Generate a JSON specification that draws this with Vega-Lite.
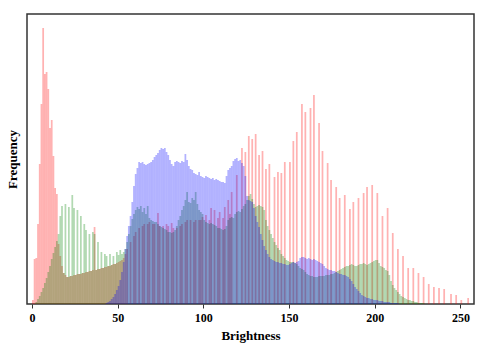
{"$schema":"https://vega.github.io/schema/vega-lite/v6.json","width":447,"height":290,"autosize":{"type":"none"},"padding":{"left":27,"top":14,"right":13,"bottom":48},"background":"white","config":{"view":{"stroke":"#333","strokeWidth":1.5},"font":"Liberation Serif"},
"datasets":{"h":[
{"c":"R","b":0,"v":4},{"c":"R","b":1,"v":45},{"c":"R","b":2,"v":46},{"c":"R","b":3,"v":80},{"c":"R","b":4,"v":140},{"c":"R","b":5,"v":200},{"c":"R","b":6,"v":276},{"c":"R","b":7,"v":230},{"c":"R","b":8,"v":232},{"c":"R","b":9,"v":215},{"c":"R","b":10,"v":176},{"c":"R","b":11,"v":184},{"c":"R","b":12,"v":148},{"c":"R","b":13,"v":116},{"c":"R","b":14,"v":110},{"c":"R","b":15,"v":60},{"c":"R","b":16,"v":48},{"c":"R","b":17,"v":38},{"c":"R","b":18,"v":31},{"c":"R","b":19,"v":29},{"c":"R","b":20,"v":27},{"c":"R","b":21,"v":27},{"c":"R","b":22,"v":28},{"c":"R","b":23,"v":28},{"c":"R","b":24,"v":29},{"c":"R","b":25,"v":29},{"c":"R","b":26,"v":30},{"c":"R","b":27,"v":30},{"c":"R","b":28,"v":30},{"c":"R","b":29,"v":31},{"c":"R","b":30,"v":31},{"c":"R","b":31,"v":32},{"c":"R","b":32,"v":32},{"c":"R","b":33,"v":33},{"c":"R","b":34,"v":33},{"c":"R","b":35,"v":34},{"c":"R","b":36,"v":77},{"c":"R","b":37,"v":34},{"c":"R","b":38,"v":35},{"c":"R","b":39,"v":35},{"c":"R","b":40,"v":36},{"c":"R","b":41,"v":36},{"c":"R","b":42,"v":37},{"c":"R","b":43,"v":37},{"c":"R","b":44,"v":38},{"c":"R","b":45,"v":38},{"c":"R","b":46,"v":39},{"c":"R","b":47,"v":40},{"c":"R","b":48,"v":40},{"c":"R","b":49,"v":41},{"c":"R","b":50,"v":42},{"c":"R","b":51,"v":43},{"c":"R","b":52,"v":44},{"c":"R","b":53,"v":46},{"c":"R","b":54,"v":50},{"c":"R","b":55,"v":55},{"c":"R","b":57,"v":62},{"c":"R","b":59,"v":68},{"c":"R","b":60,"v":72},{"c":"R","b":62,"v":76},{"c":"R","b":64,"v":78},{"c":"R","b":65,"v":80},{"c":"R","b":67,"v":80},{"c":"R","b":68,"v":82},{"c":"R","b":70,"v":80},{"c":"R","b":71,"v":80},{"c":"R","b":73,"v":91},{"c":"R","b":74,"v":78},{"c":"R","b":76,"v":78},{"c":"R","b":78,"v":80},{"c":"R","b":79,"v":78},{"c":"R","b":81,"v":81},{"c":"R","b":82,"v":76},{"c":"R","b":84,"v":76},{"c":"R","b":86,"v":78},{"c":"R","b":87,"v":80},{"c":"R","b":89,"v":82},{"c":"R","b":90,"v":84},{"c":"R","b":92,"v":84},{"c":"R","b":94,"v":82},{"c":"R","b":95,"v":84},{"c":"R","b":97,"v":84},{"c":"R","b":98,"v":84},{"c":"R","b":99,"v":87},{"c":"R","b":101,"v":89},{"c":"R","b":103,"v":84},{"c":"R","b":104,"v":96},{"c":"R","b":106,"v":94},{"c":"R","b":108,"v":86},{"c":"R","b":109,"v":92},{"c":"R","b":111,"v":86},{"c":"R","b":112,"v":97},{"c":"R","b":114,"v":104},{"c":"R","b":115,"v":90},{"c":"R","b":116,"v":112},{"c":"R","b":119,"v":129},{"c":"R","b":122,"v":156},{"c":"R","b":124,"v":152},{"c":"R","b":126,"v":168},{"c":"R","b":128,"v":165},{"c":"R","b":130,"v":170},{"c":"R","b":132,"v":149},{"c":"R","b":134,"v":153},{"c":"R","b":136,"v":135},{"c":"R","b":138,"v":140},{"c":"R","b":141,"v":127},{"c":"R","b":143,"v":132},{"c":"R","b":145,"v":131},{"c":"R","b":147,"v":142},{"c":"R","b":150,"v":142},{"c":"R","b":152,"v":163},{"c":"R","b":154,"v":172},{"c":"R","b":157,"v":200},{"c":"R","b":159,"v":192},{"c":"R","b":162,"v":196},{"c":"R","b":164,"v":209},{"c":"R","b":167,"v":181},{"c":"R","b":169,"v":153},{"c":"R","b":172,"v":141},{"c":"R","b":174,"v":124},{"c":"R","b":177,"v":117},{"c":"R","b":179,"v":106},{"c":"R","b":182,"v":109},{"c":"R","b":185,"v":95},{"c":"R","b":187,"v":102},{"c":"R","b":190,"v":106},{"c":"R","b":193,"v":111},{"c":"R","b":195,"v":117},{"c":"R","b":198,"v":119},{"c":"R","b":201,"v":111},{"c":"R","b":204,"v":88},{"c":"R","b":207,"v":96},{"c":"R","b":210,"v":71},{"c":"R","b":213,"v":55},{"c":"R","b":216,"v":48},{"c":"R","b":219,"v":36},{"c":"R","b":222,"v":36},{"c":"R","b":225,"v":31},{"c":"R","b":228,"v":27},{"c":"R","b":231,"v":20},{"c":"R","b":234,"v":17},{"c":"R","b":237,"v":16},{"c":"R","b":240,"v":15},{"c":"R","b":244,"v":10},{"c":"R","b":247,"v":9},{"c":"R","b":250,"v":4},{"c":"R","b":254,"v":6},
{"c":"G","b":2,"v":2},{"c":"G","b":3,"v":5},{"c":"G","b":4,"v":8},{"c":"G","b":5,"v":12},{"c":"G","b":6,"v":16},{"c":"G","b":7,"v":21},{"c":"G","b":8,"v":26},{"c":"G","b":9,"v":32},{"c":"G","b":10,"v":38},{"c":"G","b":11,"v":45},{"c":"G","b":12,"v":51},{"c":"G","b":13,"v":57},{"c":"G","b":14,"v":63},{"c":"G","b":15,"v":70},{"c":"G","b":16,"v":88},{"c":"G","b":17,"v":98},{"c":"G","b":18,"v":31},{"c":"G","b":19,"v":100},{"c":"G","b":20,"v":27},{"c":"G","b":21,"v":97},{"c":"G","b":22,"v":28},{"c":"G","b":23,"v":109},{"c":"G","b":24,"v":96},{"c":"G","b":25,"v":29},{"c":"G","b":26,"v":94},{"c":"G","b":27,"v":30},{"c":"G","b":28,"v":88},{"c":"G","b":29,"v":31},{"c":"G","b":30,"v":80},{"c":"G","b":31,"v":74},{"c":"G","b":32,"v":32},{"c":"G","b":33,"v":70},{"c":"G","b":34,"v":33},{"c":"G","b":35,"v":72},{"c":"G","b":36,"v":70},{"c":"G","b":37,"v":34},{"c":"G","b":38,"v":62},{"c":"G","b":39,"v":35},{"c":"G","b":40,"v":52},{"c":"G","b":41,"v":36},{"c":"G","b":42,"v":50},{"c":"G","b":43,"v":48},{"c":"G","b":44,"v":38},{"c":"G","b":45,"v":50},{"c":"G","b":46,"v":39},{"c":"G","b":47,"v":48},{"c":"G","b":48,"v":40},{"c":"G","b":49,"v":52},{"c":"G","b":50,"v":49},{"c":"G","b":51,"v":54},{"c":"G","b":52,"v":50},{"c":"G","b":53,"v":52},{"c":"G","b":54,"v":55},{"c":"G","b":55,"v":62},{"c":"G","b":56,"v":70},{"c":"G","b":57,"v":78},{"c":"G","b":58,"v":85},{"c":"G","b":59,"v":90},{"c":"G","b":60,"v":94},{"c":"G","b":61,"v":97},{"c":"G","b":62,"v":95},{"c":"G","b":63,"v":98},{"c":"G","b":64,"v":92},{"c":"G","b":65,"v":96},{"c":"G","b":66,"v":90},{"c":"G","b":67,"v":98},{"c":"G","b":68,"v":86},{"c":"G","b":69,"v":84},{"c":"G","b":70,"v":83},{"c":"G","b":71,"v":82},{"c":"G","b":72,"v":82},{"c":"G","b":73,"v":80},{"c":"G","b":74,"v":78},{"c":"G","b":75,"v":77},{"c":"G","b":76,"v":76},{"c":"G","b":77,"v":75},{"c":"G","b":78,"v":74},{"c":"G","b":79,"v":72},{"c":"G","b":80,"v":72},{"c":"G","b":81,"v":71},{"c":"G","b":82,"v":72},{"c":"G","b":83,"v":74},{"c":"G","b":84,"v":78},{"c":"G","b":85,"v":84},{"c":"G","b":86,"v":88},{"c":"G","b":87,"v":94},{"c":"G","b":88,"v":98},{"c":"G","b":89,"v":104},{"c":"G","b":90,"v":112},{"c":"G","b":91,"v":102},{"c":"G","b":92,"v":101},{"c":"G","b":93,"v":106},{"c":"G","b":94,"v":104},{"c":"G","b":95,"v":112},{"c":"G","b":96,"v":100},{"c":"G","b":97,"v":94},{"c":"G","b":98,"v":92},{"c":"G","b":99,"v":90},{"c":"G","b":100,"v":84},{"c":"G","b":101,"v":82},{"c":"G","b":102,"v":81},{"c":"G","b":103,"v":80},{"c":"G","b":104,"v":81},{"c":"G","b":105,"v":80},{"c":"G","b":106,"v":79},{"c":"G","b":107,"v":78},{"c":"G","b":108,"v":76},{"c":"G","b":109,"v":76},{"c":"G","b":110,"v":75},{"c":"G","b":111,"v":74},{"c":"G","b":112,"v":75},{"c":"G","b":113,"v":78},{"c":"G","b":114,"v":84},{"c":"G","b":115,"v":86},{"c":"G","b":116,"v":87},{"c":"G","b":117,"v":86},{"c":"G","b":118,"v":90},{"c":"G","b":119,"v":92},{"c":"G","b":120,"v":93},{"c":"G","b":121,"v":92},{"c":"G","b":122,"v":95},{"c":"G","b":123,"v":98},{"c":"G","b":124,"v":100},{"c":"G","b":125,"v":104},{"c":"G","b":126,"v":108},{"c":"G","b":127,"v":110},{"c":"G","b":128,"v":105},{"c":"G","b":129,"v":100},{"c":"G","b":130,"v":97},{"c":"G","b":131,"v":98},{"c":"G","b":132,"v":99},{"c":"G","b":133,"v":98},{"c":"G","b":134,"v":97},{"c":"G","b":135,"v":94},{"c":"G","b":136,"v":84},{"c":"G","b":137,"v":78},{"c":"G","b":138,"v":74},{"c":"G","b":139,"v":70},{"c":"G","b":140,"v":66},{"c":"G","b":141,"v":62},{"c":"G","b":142,"v":59},{"c":"G","b":143,"v":56},{"c":"G","b":144,"v":54},{"c":"G","b":145,"v":50},{"c":"G","b":146,"v":48},{"c":"G","b":147,"v":46},{"c":"G","b":148,"v":44},{"c":"G","b":149,"v":43},{"c":"G","b":150,"v":42},{"c":"G","b":151,"v":42},{"c":"G","b":152,"v":42},{"c":"G","b":153,"v":41},{"c":"G","b":154,"v":40},{"c":"G","b":155,"v":38},{"c":"G","b":156,"v":36},{"c":"G","b":157,"v":35},{"c":"G","b":158,"v":34},{"c":"G","b":159,"v":32},{"c":"G","b":160,"v":30},{"c":"G","b":161,"v":29},{"c":"G","b":162,"v":28},{"c":"G","b":163,"v":28},{"c":"G","b":164,"v":27},{"c":"G","b":165,"v":27},{"c":"G","b":166,"v":27},{"c":"G","b":167,"v":28},{"c":"G","b":168,"v":28},{"c":"G","b":169,"v":28},{"c":"G","b":170,"v":28},{"c":"G","b":171,"v":29},{"c":"G","b":172,"v":29},{"c":"G","b":173,"v":29},{"c":"G","b":174,"v":30},{"c":"G","b":175,"v":30},{"c":"G","b":176,"v":31},{"c":"G","b":177,"v":32},{"c":"G","b":178,"v":33},{"c":"G","b":179,"v":34},{"c":"G","b":180,"v":35},{"c":"G","b":181,"v":36},{"c":"G","b":182,"v":37},{"c":"G","b":183,"v":38},{"c":"G","b":184,"v":38},{"c":"G","b":185,"v":39},{"c":"G","b":186,"v":40},{"c":"G","b":187,"v":39},{"c":"G","b":188,"v":38},{"c":"G","b":189,"v":38},{"c":"G","b":190,"v":39},{"c":"G","b":191,"v":40},{"c":"G","b":192,"v":40},{"c":"G","b":193,"v":41},{"c":"G","b":194,"v":40},{"c":"G","b":195,"v":39},{"c":"G","b":196,"v":40},{"c":"G","b":197,"v":41},{"c":"G","b":198,"v":42},{"c":"G","b":199,"v":43},{"c":"G","b":200,"v":44},{"c":"G","b":201,"v":44},{"c":"G","b":202,"v":41},{"c":"G","b":203,"v":38},{"c":"G","b":204,"v":37},{"c":"G","b":205,"v":36},{"c":"G","b":206,"v":34},{"c":"G","b":207,"v":33},{"c":"G","b":208,"v":29},{"c":"G","b":209,"v":23},{"c":"G","b":210,"v":19},{"c":"G","b":211,"v":16},{"c":"G","b":212,"v":14},{"c":"G","b":213,"v":12},{"c":"G","b":214,"v":10},{"c":"G","b":215,"v":8},{"c":"G","b":216,"v":7},{"c":"G","b":217,"v":6},{"c":"G","b":218,"v":5},{"c":"G","b":219,"v":4},{"c":"G","b":220,"v":4},{"c":"G","b":221,"v":3},{"c":"G","b":222,"v":3},{"c":"G","b":223,"v":2},{"c":"G","b":224,"v":2},{"c":"G","b":225,"v":1},{"c":"G","b":226,"v":1},{"c":"G","b":227,"v":1},{"c":"G","b":228,"v":1},
{"c":"B","b":43,"v":1},{"c":"B","b":44,"v":2},{"c":"B","b":45,"v":3},{"c":"B","b":46,"v":5},{"c":"B","b":47,"v":7},{"c":"B","b":48,"v":10},{"c":"B","b":49,"v":14},{"c":"B","b":50,"v":18},{"c":"B","b":51,"v":24},{"c":"B","b":52,"v":32},{"c":"B","b":53,"v":42},{"c":"B","b":54,"v":55},{"c":"B","b":55,"v":68},{"c":"B","b":56,"v":78},{"c":"B","b":57,"v":88},{"c":"B","b":58,"v":102},{"c":"B","b":59,"v":118},{"c":"B","b":60,"v":130},{"c":"B","b":61,"v":136},{"c":"B","b":62,"v":142},{"c":"B","b":63,"v":141},{"c":"B","b":64,"v":142},{"c":"B","b":65,"v":140},{"c":"B","b":66,"v":139},{"c":"B","b":67,"v":140},{"c":"B","b":68,"v":141},{"c":"B","b":69,"v":142},{"c":"B","b":70,"v":144},{"c":"B","b":71,"v":147},{"c":"B","b":72,"v":149},{"c":"B","b":73,"v":151},{"c":"B","b":74,"v":154},{"c":"B","b":75,"v":156},{"c":"B","b":76,"v":155},{"c":"B","b":77,"v":156},{"c":"B","b":78,"v":152},{"c":"B","b":79,"v":149},{"c":"B","b":80,"v":144},{"c":"B","b":81,"v":140},{"c":"B","b":82,"v":138},{"c":"B","b":83,"v":142},{"c":"B","b":84,"v":143},{"c":"B","b":85,"v":142},{"c":"B","b":86,"v":141},{"c":"B","b":87,"v":143},{"c":"B","b":88,"v":142},{"c":"B","b":89,"v":150},{"c":"B","b":90,"v":144},{"c":"B","b":91,"v":138},{"c":"B","b":92,"v":135},{"c":"B","b":93,"v":134},{"c":"B","b":94,"v":131},{"c":"B","b":95,"v":130},{"c":"B","b":96,"v":129},{"c":"B","b":97,"v":132},{"c":"B","b":98,"v":128},{"c":"B","b":99,"v":127},{"c":"B","b":100,"v":126},{"c":"B","b":101,"v":128},{"c":"B","b":102,"v":127},{"c":"B","b":103,"v":126},{"c":"B","b":104,"v":125},{"c":"B","b":105,"v":126},{"c":"B","b":106,"v":124},{"c":"B","b":107,"v":125},{"c":"B","b":108,"v":124},{"c":"B","b":109,"v":123},{"c":"B","b":110,"v":122},{"c":"B","b":111,"v":122},{"c":"B","b":112,"v":121},{"c":"B","b":113,"v":128},{"c":"B","b":114,"v":134},{"c":"B","b":115,"v":136},{"c":"B","b":116,"v":138},{"c":"B","b":117,"v":143},{"c":"B","b":118,"v":145},{"c":"B","b":119,"v":146},{"c":"B","b":120,"v":143},{"c":"B","b":121,"v":144},{"c":"B","b":122,"v":141},{"c":"B","b":123,"v":138},{"c":"B","b":124,"v":128},{"c":"B","b":125,"v":108},{"c":"B","b":126,"v":104},{"c":"B","b":127,"v":103},{"c":"B","b":128,"v":102},{"c":"B","b":129,"v":96},{"c":"B","b":130,"v":88},{"c":"B","b":131,"v":82},{"c":"B","b":132,"v":77},{"c":"B","b":133,"v":70},{"c":"B","b":134,"v":64},{"c":"B","b":135,"v":58},{"c":"B","b":136,"v":54},{"c":"B","b":137,"v":50},{"c":"B","b":138,"v":47},{"c":"B","b":139,"v":45},{"c":"B","b":140,"v":44},{"c":"B","b":141,"v":43},{"c":"B","b":142,"v":42},{"c":"B","b":143,"v":42},{"c":"B","b":144,"v":41},{"c":"B","b":145,"v":41},{"c":"B","b":146,"v":40},{"c":"B","b":147,"v":40},{"c":"B","b":148,"v":39},{"c":"B","b":149,"v":39},{"c":"B","b":150,"v":40},{"c":"B","b":151,"v":41},{"c":"B","b":152,"v":42},{"c":"B","b":153,"v":41},{"c":"B","b":154,"v":42},{"c":"B","b":155,"v":43},{"c":"B","b":156,"v":46},{"c":"B","b":157,"v":47},{"c":"B","b":158,"v":47},{"c":"B","b":159,"v":46},{"c":"B","b":160,"v":45},{"c":"B","b":161,"v":46},{"c":"B","b":162,"v":45},{"c":"B","b":163,"v":44},{"c":"B","b":164,"v":45},{"c":"B","b":165,"v":44},{"c":"B","b":166,"v":43},{"c":"B","b":167,"v":42},{"c":"B","b":168,"v":41},{"c":"B","b":169,"v":40},{"c":"B","b":170,"v":38},{"c":"B","b":171,"v":36},{"c":"B","b":172,"v":35},{"c":"B","b":173,"v":34},{"c":"B","b":174,"v":34},{"c":"B","b":175,"v":33},{"c":"B","b":176,"v":33},{"c":"B","b":177,"v":32},{"c":"B","b":178,"v":31},{"c":"B","b":179,"v":30},{"c":"B","b":180,"v":30},{"c":"B","b":181,"v":29},{"c":"B","b":182,"v":29},{"c":"B","b":183,"v":28},{"c":"B","b":184,"v":27},{"c":"B","b":185,"v":25},{"c":"B","b":186,"v":23},{"c":"B","b":187,"v":20},{"c":"B","b":188,"v":17},{"c":"B","b":189,"v":15},{"c":"B","b":190,"v":13},{"c":"B","b":191,"v":11},{"c":"B","b":192,"v":9},{"c":"B","b":193,"v":8},{"c":"B","b":194,"v":7},{"c":"B","b":195,"v":6},{"c":"B","b":196,"v":6},{"c":"B","b":197,"v":5},{"c":"B","b":198,"v":5},{"c":"B","b":199,"v":4},{"c":"B","b":200,"v":4},{"c":"B","b":201,"v":4},{"c":"B","b":202,"v":3},{"c":"B","b":203,"v":3},{"c":"B","b":204,"v":3},{"c":"B","b":205,"v":2},{"c":"B","b":206,"v":2},{"c":"B","b":207,"v":2},{"c":"B","b":208,"v":2},{"c":"B","b":209,"v":1},{"c":"B","b":210,"v":1},{"c":"B","b":211,"v":1},{"c":"B","b":212,"v":1},{"c":"B","b":213,"v":1}
]},
"data":{"name":"h"},
"mark":{"type":"bar","width":1.75,"xOffset":0.87,"opacity":0.3,"clip":true},
"encoding":{
"x":{"field":"b","type":"quantitative","scale":{"domain":[0,255],"nice":false,"zero":false},"axis":{"values":[0,50,100,150,200,250],"title":"Brightness","grid":false,"domain":false,"tickColor":"#333","tickSize":4,"tickWidth":1,"labelFont":"Liberation Serif","labelFontWeight":"bold","labelFontSize":12,"labelColor":"#000","labelPadding":4,"titleFont":"Liberation Serif","titleFontWeight":"bold","titleFontSize":13,"titleColor":"#000","titlePadding":6}},
"y":{"field":"v","type":"quantitative","stack":null,"scale":{"domain":[0,290],"nice":false},"axis":{"title":"Frequency","grid":false,"domain":false,"ticks":false,"labels":false,"titleFont":"Liberation Serif","titleFontWeight":"bold","titleFontSize":13,"titleColor":"#000","titlePadding":8}},
"color":{"field":"c","type":"nominal","scale":{"domain":["R","G","B"],"range":["#ff0000","#008000","#0000ff"]},"legend":null}
}}
